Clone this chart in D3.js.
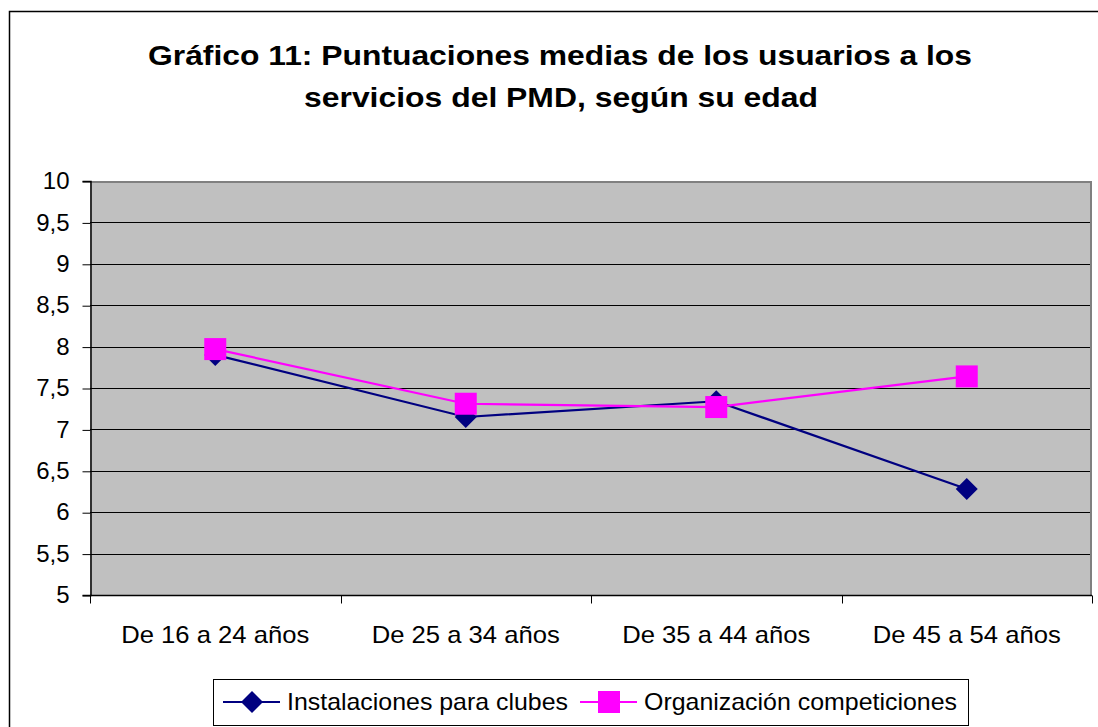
<!DOCTYPE html>
<html>
<head>
<meta charset="utf-8">
<script src="https://cdn.jsdelivr.net/npm/d3@7"></script>
<style>
	body { margin:0; background:#fff; }
	svg text { font-family: Arial, "Liberation Sans", sans-serif; }
</style>
</head>
<body>
<svg id="chart" width="1098" height="727"></svg>
<script>
var	categories	= ["De 16 a 24 años", "De 25 a 34 años", "De 35 a 44 años", "De 45 a 54 años"],
	instalaciones	= [7.90, 7.15, 7.34, 6.28],
	organizacion	= [7.97, 7.31, 7.27, 7.64],
	yTicks		= [5, 5.5, 6, 6.5, 7, 7.5, 8, 8.5, 9, 9.5, 10],
	seriesNames	= ["Instalaciones para clubes", "Organización competiciones"],
	titleLines	= ["Gráfico 11: Puntuaciones medias de los usuarios a los", "servicios del PMD, según su edad"];

var	svg	= d3.select("#chart"),
	plot	= {left:90, top:181, right:1092, bottom:595},
	x	= d3.scaleBand().domain(categories).range([plot.left, plot.right]),
	y	= d3.scaleLinear().domain([5, 10]).range([plot.bottom, plot.top]),
	fmt	= function(v) { return String(v).replace(".", ","); };

var series = [
	{name: seriesNames[0], values: instalaciones, color: "#000080", shape: "diamond"},
	{name: seriesNames[1], values: organizacion, color: "#FF00FF", shape: "square"}
];

// outer chart frame
svg.append("rect").attr("x", 9.5).attr("y", 11.5).attr("width", 1120).attr("height", 760)
	.attr("fill", "white").attr("stroke", "black").attr("stroke-width", 1.5);

// title (slightly wide letters, as in the source)
var titlePos = [{cx:560, y:65, w:824}, {cx:561, y:107, w:514}];
svg.selectAll(".title").data(titleLines).enter().append("text")
	.attr("class", "title").attr("text-anchor", "middle")
	.attr("x", function(d, i) { return titlePos[i].cx; })
	.attr("y", function(d, i) { return titlePos[i].y; })
	.attr("textLength", function(d, i) { return titlePos[i].w; })
	.attr("lengthAdjust", "spacingAndGlyphs")
	.attr("font-size", 28).attr("font-weight", "bold").attr("fill", "black")
	.text(function(d) { return d; });

// plot background
svg.append("rect").attr("x", plot.left).attr("y", plot.top)
	.attr("width", plot.right - plot.left).attr("height", plot.bottom - plot.top)
	.attr("fill", "#C0C0C0");

// gridlines
svg.append("g").selectAll("line").data(yTicks.filter(function(d) { return d > 5 && d < 10; }))
	.enter().append("line")
	.attr("x1", plot.left).attr("x2", plot.right)
	.attr("y1", function(d) { return Math.round(y(d)) + 0.5; })
	.attr("y2", function(d) { return Math.round(y(d)) + 0.5; })
	.attr("stroke", "black").attr("stroke-width", 1);

// top and right border in gray
svg.append("path")
	.attr("d", "M" + plot.left + "," + (plot.top + 1) + "H" + (plot.right - 1) + "V" + plot.bottom)
	.attr("fill", "none").attr("stroke", "#808080").attr("stroke-width", 2);

// y axis
var yAxis = svg.append("g").attr("transform", "translate(" + (plot.left + 0.5) + ",0)")
	.call(d3.axisLeft(y).tickValues(yTicks).tickFormat(fmt).tickSize(8).tickPadding(13));
yAxis.select(".domain").attr("stroke", "black").attr("stroke-width", 1.5);
yAxis.selectAll(".tick line").attr("stroke", "black").attr("transform", "translate(0,0.5)");
yAxis.selectAll(".tick text").attr("font-size", 24).attr("fill", "black")
	.attr("font-family", "Arial, 'Liberation Sans', sans-serif");

// x axis
var xAxis = svg.append("g").attr("transform", "translate(0," + (plot.bottom + 0.5) + ")");
xAxis.append("line").attr("x1", plot.left).attr("x2", plot.right)
	.attr("stroke", "black").attr("stroke-width", 1.5);
xAxis.selectAll(".xtick").data(d3.range(categories.length + 1)).enter().append("line")
	.attr("x1", function(i) { return Math.round(plot.left + i * x.bandwidth()) + 0.5; })
	.attr("x2", function(i) { return Math.round(plot.left + i * x.bandwidth()) + 0.5; })
	.attr("y1", 0).attr("y2", 8).attr("stroke", "black");
xAxis.selectAll(".xlabel").data(categories).enter().append("text")
	.attr("x", function(d) { return x(d) + x.bandwidth() / 2; })
	.attr("y", 47).attr("text-anchor", "middle").attr("font-size", 24).attr("fill", "black")
	.attr("textLength", 188).attr("lengthAdjust", "spacingAndGlyphs")
	.text(function(d) { return d; });

// lines and markers
var line = d3.line().x(function(d, i) { return x(categories[i]) + x.bandwidth() / 2; }).y(function(d) { return y(d); });

function marker(sel, shape, color, cx, cy) {
	if (shape == "diamond")
		sel.append("path").attr("d", "M" + cx + "," + (cy - 11) + "L" + (cx + 11) + "," + cy + "L" + cx + "," + (cy + 11) + "L" + (cx - 11) + "," + cy + "Z")
			.attr("fill", color);
	else
		sel.append("rect").attr("x", cx - 11).attr("y", cy - 11).attr("width", 22).attr("height", 22)
			.attr("fill", color);
}

series.forEach(function(s) {
	var g = svg.append("g");
	g.append("path").attr("d", line(s.values)).attr("fill", "none")
		.attr("stroke", s.color).attr("stroke-width", 2.2);
	s.values.forEach(function(v, i) {
		marker(g, s.shape, s.color, x(categories[i]) + x.bandwidth() / 2, y(v));
	});
});

// legend
var legend = svg.append("g");
legend.append("rect").attr("x", 213.5).attr("y", 679.5).attr("width", 755).attr("height", 46)
	.attr("fill", "white").attr("stroke", "black").attr("stroke-width", 1);
var lx = [223, 580], lw = [281, 313];
series.forEach(function(s, i) {
	var g = legend.append("g");
	g.append("line").attr("x1", lx[i]).attr("x2", lx[i] + 57).attr("y1", 702).attr("y2", 702)
		.attr("stroke", s.color).attr("stroke-width", 2.2);
	marker(g, s.shape, s.color, lx[i] + 29, 702);
	g.append("text").attr("x", lx[i] + 64).attr("y", 710).attr("font-size", 24).attr("fill", "black")
		.attr("textLength", lw[i]).attr("lengthAdjust", "spacingAndGlyphs")
		.text(s.name);
});
</script>
</body>
</html>
